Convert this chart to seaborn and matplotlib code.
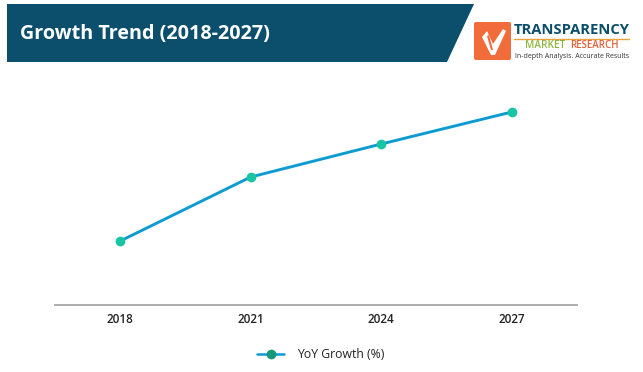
import matplotlib
matplotlib.use('Agg')
import matplotlib.pyplot as plt
from matplotlib.patches import Polygon, FancyBboxPatch
from matplotlib.lines import Line2D
import pandas as pd
import seaborn as sns

years = ['2018', '2021', '2024', '2027']
yoy_growth = [64, 128, 161, 193]

W, H = 643, 372

sns.set_theme(style='white')
plt.rcParams['font.family'] = ['Open Sans', 'DejaVu Sans']

df = pd.DataFrame({'year': years, 'YoY Growth (%)': yoy_growth})

fig = plt.figure(figsize=(W / 100, H / 100), dpi=100, facecolor='white')
ax = fig.add_axes([55 / W, 1 - 305 / H, (577 - 55) / W, 240 / H])

sns.lineplot(data=df, x='year', y='YoY Growth (%)', ax=ax, color='#0E9BD1', linewidth=2.1,
             marker='o', markersize=7, markerfacecolor='#17C4A4', markeredgewidth=0, sort=False)
ax.set_xlim(-0.5, 3.5)
ax.set_ylim(0, 240)
ax.set_xlabel('')
ax.set_ylabel('')
ax.set_yticks([])
ax.tick_params(axis='x', length=0, pad=5.5)
for lab in ax.get_xticklabels():
    lab.set_fontsize(8.5)
    lab.set_fontweight('semibold')
    lab.set_color('#222222')
sns.despine(ax=ax, left=True)
ax.spines['bottom'].set_color('#A6A6A6')
ax.spines['bottom'].set_linewidth(1.3)
ax.patch.set_alpha(0)

# legend
handle = Line2D([], [], color='#0E9BD1', linewidth=1.8, marker='o', markersize=7,
                markerfacecolor='#13997A', markeredgewidth=0)
fig.legend([handle], ['YoY Growth (%)'], loc='center', bbox_to_anchor=(321 / W, 1 - 355 / H),
           frameon=False, fontsize=8.8, handlelength=2.2, handletextpad=1.1, labelcolor='#222222')

# header and logo, drawn in pixel coordinates
bg = fig.add_axes([0, 0, 1, 1], zorder=5)
bg.set_xlim(0, W)
bg.set_ylim(H, 0)
bg.axis('off')
bg.patch.set_alpha(0)

bg.add_patch(Polygon([(7, 4), (474, 4), (447, 62), (7, 62)], closed=True, facecolor='#0B4F6C', edgecolor='none'))
bg.text(20, 33.5, 'Growth Trend (2018-2027)', color='white', fontsize=14.2, fontweight='bold', va='center', ha='left')

bg.add_patch(FancyBboxPatch((474, 22), 37, 38, boxstyle='round,pad=0,rounding_size=2',
                            facecolor='#F26B3A', edgecolor='none'))
# check mark of the logo
bg.add_patch(Polygon([(482, 37), (487, 31), (493, 44), (503, 29), (506, 31), (495, 55), (491, 55)],
                     closed=True, facecolor='white', edgecolor='none'))
bg.add_patch(Polygon([(487, 36), (489, 35), (493, 50), (491, 50)],
                     closed=True, facecolor='#F26B3A', edgecolor='none'))
bg.text(514, 29.5, 'TRANSPARENCY', color='#0B4F6C', fontsize=10.6, fontweight='bold', va='center', ha='left')
bg.plot([514, 629], [38.5, 38.5], color='#E8A33D', linewidth=1)
bg.text(525, 46, 'MARKET', color='#8DB63F', fontsize=7.2, fontweight='semibold', va='center', ha='left')
bg.text(570, 46, 'RESEARCH', color='#E2603A', fontsize=7, fontweight='semibold', va='center', ha='left')
bg.text(515, 56, 'In-depth Analysis. Accurate Results', color='#333333', fontsize=5.05, va='center', ha='left')

fig.savefig('out.png', dpi=100)
